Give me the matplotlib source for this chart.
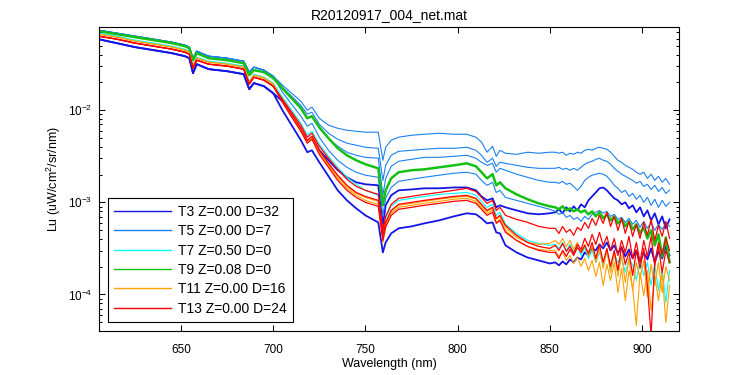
import numpy as np
import matplotlib
matplotlib.use("Agg")
import matplotlib.pyplot as plt

plt.rcParams["font.family"] = ["Liberation Sans", "DejaVu Sans"]
plt.rcParams["mathtext.fontset"] = "custom"
plt.rcParams["mathtext.rm"] = "Liberation Sans"
plt.rcParams["mathtext.it"] = "Liberation Sans:italic"
plt.rcParams["mathtext.bf"] = "Liberation Sans:bold"

# wavelength grid (nm): visible part, red edge / plateau, noisy NIR tail
wl_a = [605, 615, 625, 635, 645, 652, 654.5, 656.5, 658.5, 665, 675, 684, 687, 689.5, 695, 700]
wl_b = [705, 710, 715, 718.5, 721, 725, 730, 735, 740, 745, 750, 757, 759.5, 761, 764, 768,
        775, 782, 790, 798, 805, 810, 813, 816, 819, 821, 823, 826, 832, 838, 844, 850]
wl_c = list(np.arange(853, 916, 2))
wl = wl_a + wl_b + wl_c

# Lu values in units of 1e-3 uW/cm^2/sr/nm
t3_a = [59.1, 53.5, 48.4, 44.9, 41.6, 38.6, 36.7, 25.2, 31.6, 27.9, 26.5, 24.6, 16.9, 19.7, 18.2, 15.3]
t5_a = [74.1, 68.7, 63.7, 59.1, 54.8, 50.9, 48.4, 36.7, 43.8, 38.6, 36.7, 34.0, 25.9, 29.3, 27.2, 23.4]
t7_a = [68.7, 63.7, 57.7, 53.5, 49.6, 46.0, 43.8, 30.8, 37.6, 34.0, 32.4, 30.1, 20.7, 24.6, 22.8, 19.7]
t9_a = [72.2, 67.0, 62.1, 57.7, 53.5, 49.6, 47.2, 34.9, 41.6, 36.7, 34.9, 32.4, 24.0, 27.2, 25.9, 22.3]
t11_a = [67.0, 62.1, 56.2, 52.2, 48.4, 44.9, 42.7, 30.1, 36.7, 33.2, 31.6, 29.3, 20.2, 24.0, 22.3, 19.2]
t13_a = [63.7, 59.1, 53.5, 49.6, 46.0, 42.7, 40.6, 28.6, 34.9, 31.6, 30.1, 27.9, 19.2, 22.8, 21.2, 18.2]

# T3
t3_lo_b = [10.0, 6.87, 4.72, 3.50, 3.67, 2.72, 1.92, 1.35, 1.05, 0.861, 0.722, 0.606, 0.286, 0.367, 0.460, 0.522,
           0.548, 0.591, 0.637, 0.704, 0.760, 0.741, 0.670, 0.591, 0.606, 0.472, 0.460, 0.341, 0.286, 0.252, 0.234, 0.217]
t3_lo_c = [0.223, 0.207, 0.228, 0.212, 0.240, 0.223, 0.252, 0.240, 0.286, 0.265, 0.316, 0.301, 0.350, 0.316, 0.367, 0.301,
           0.341, 0.279, 0.324, 0.259, 0.308, 0.246, 0.301, 0.223, 0.286, 0.240, 0.316, 0.223, 0.293, 0.246, 0.332, 0.265]
t3_hi_b = [12.5, 8.83, 6.22, 4.60, 5.09, 3.67, 2.86, 2.23, 1.87, 1.65, 1.57, 1.53, 0.562, 0.928, 1.19, 1.35,
           1.38, 1.42, 1.42, 1.45, 1.45, 1.35, 1.16, 1.05, 1.105, 0.883, 0.928, 0.883, 0.818, 0.760, 0.741, 0.760]
t3_hi_c = [0.779, 0.840, 0.760, 0.883, 0.798, 0.905, 0.818, 0.951, 0.883, 1.05, 1.16, 1.28, 1.42, 1.45, 1.35, 1.22,
           1.105, 1.05, 0.951, 1.00, 0.861, 0.928, 0.779, 0.883, 0.704, 0.818, 0.637, 0.760, 0.577, 0.704, 0.522, 0.653]

# T5
t5_1_b = [18.7, 15.3, 12.5, 10.0, 10.8, 8.18, 6.87, 6.37, 6.06, 5.91, 5.77, 5.77, 2.86, 3.96, 4.72, 5.09,
          5.35, 5.48, 5.62, 5.48, 5.48, 5.09, 4.49, 3.50, 4.06, 3.16, 3.67, 3.41, 3.32, 3.50, 3.41, 3.50]
t5_1_c = [3.50, 3.41, 3.50, 3.24, 3.41, 3.32, 3.50, 3.41, 3.67, 3.77, 3.67, 3.86, 3.96, 3.86, 3.77, 3.50,
          3.16, 2.86, 2.72, 2.52, 2.40, 2.28, 2.12, 2.02, 2.12, 1.82, 2.02, 1.73, 1.92, 1.65, 1.82, 1.57]
t5_2_b = [17.7, 14.2, 11.3, 9.05, 9.51, 7.04, 5.62, 4.84, 4.38, 4.17, 3.96, 3.86, 1.73, 2.52, 3.24, 3.58,
          3.67, 3.77, 3.86, 3.86, 3.96, 3.67, 3.24, 2.72, 3.01, 2.46, 2.72, 2.65, 2.52, 2.40, 2.34, 2.34]
t5_2_c = [2.34, 2.40, 2.28, 2.34, 2.23, 2.34, 2.23, 2.40, 2.59, 2.72, 2.79, 2.93, 3.01, 2.86, 2.79, 2.59,
          2.34, 2.17, 2.02, 1.92, 1.82, 1.73, 1.61, 1.69, 1.49, 1.57, 1.38, 1.53, 1.31, 1.45, 1.25, 1.35]
t5_3_b = [17.3, 13.5, 10.5, 8.18, 8.61, 6.37, 4.96, 4.06, 3.50, 3.24, 3.08, 3.01, 1.19, 1.82, 2.46, 2.79,
          2.93, 3.08, 3.08, 3.16, 3.24, 3.01, 2.72, 2.52, 2.65, 2.12, 2.34, 2.23, 2.02, 1.87, 1.73, 1.65]
t5_3_c = [1.65, 1.61, 1.69, 1.57, 1.61, 1.49, 1.35, 1.49, 1.73, 1.87, 1.97, 2.02, 2.07, 2.02, 1.92, 1.73,
          1.53, 1.42, 1.28, 1.35, 1.16, 1.25, 1.08, 1.19, 1.00, 1.13, 0.928, 1.08, 0.883, 1.05, 0.905, 1.00]
t5_4_b = [15.7, 11.6, 8.61, 6.70, 7.22, 5.09, 3.67, 2.86, 2.40, 2.12, 1.97, 1.87, 0.722, 1.105, 1.45, 1.69,
          1.78, 1.87, 1.97, 2.07, 2.12, 2.02, 1.73, 1.53, 1.65, 1.28, 1.35, 1.13, 1.05, 0.975, 0.905, 0.840]
t5_4_c = [0.798, 0.741, 0.779, 0.687, 0.722, 0.653, 0.687, 0.621, 0.704, 0.653, 0.741, 0.779, 0.818, 0.760, 0.798, 0.704,
          0.741, 0.653, 0.687, 0.606, 0.670, 0.577, 0.637, 0.535, 0.621, 0.522, 0.606, 0.496, 0.577, 0.509, 0.591, 0.548]

# T7
t7_b = [13.85, 10.0, 7.22, 5.35, 5.91, 4.27, 3.16, 2.40, 1.87, 1.57, 1.35, 1.19, 0.472, 0.670, 0.905, 1.05,
        1.105, 1.16, 1.22, 1.25, 1.28, 1.19, 1.025, 0.883, 0.951, 0.722, 0.779, 0.577, 0.460, 0.386, 0.358, 0.341]
t7_c = [0.350, 0.316, 0.367, 0.301, 0.350, 0.286, 0.332, 0.265, 0.324, 0.246, 0.301, 0.223, 0.286, 0.202, 0.301, 0.182,
        0.272, 0.223, 0.259, 0.173, 0.246, 0.207, 0.142, 0.234, 0.161, 0.223, 0.125, 0.212, 0.110, 0.192, 0.082, 0.182]

# T9
t9_b = [17.3, 13.5, 10.5, 8.18, 8.61, 6.53, 4.96, 3.86, 3.24, 2.86, 2.59, 2.34, 0.928, 1.35, 1.82, 2.12,
        2.23, 2.28, 2.40, 2.52, 2.65, 2.46, 2.12, 1.82, 2.02, 1.53, 1.65, 1.42, 1.22, 1.08, 0.975, 0.905]
t9_c = [0.883, 0.840, 0.905, 0.818, 0.861, 0.798, 0.840, 0.779, 0.818, 0.741, 0.798, 0.704, 0.779, 0.670, 0.741, 0.637,
        0.704, 0.591, 0.653, 0.548, 0.621, 0.509, 0.577, 0.460, 0.535, 0.406, 0.496, 0.341, 0.449, 0.259, 0.416, 0.223]

# T11
t11_1_b = [12.5, 8.61, 6.06, 4.49, 4.96, 3.50, 2.52, 1.82, 1.42, 1.19, 1.05, 0.951, 0.367, 0.548, 0.760, 0.883,
           0.928, 0.975, 1.025, 1.08, 1.105, 1.025, 0.883, 0.760, 0.818, 0.606, 0.653, 0.496, 0.386, 0.332, 0.308, 0.301]
t11_1_c = [0.301, 0.259, 0.286, 0.234, 0.265, 0.217, 0.252, 0.202, 0.246, 0.182, 0.234, 0.157, 0.223, 0.125, 0.212, 0.142,
           0.223, 0.105, 0.192, 0.0857, 0.182, 0.116, 0.0460, 0.173, 0.0970, 0.182, 0.0668, 0.161, 0.0857, 0.173, 0.0496, 0.125]
t11_2_b = [12.8, 8.83, 6.22, 4.60, 5.09, 3.58, 2.59, 1.92, 1.49, 1.25, 1.13, 1.025, 0.406, 0.577, 0.798, 0.928,
           0.975, 1.025, 1.08, 1.13, 1.16, 1.08, 0.928, 0.798, 0.861, 0.653, 0.704, 0.535, 0.416, 0.367, 0.350, 0.358]
t11_2_c = [0.386, 0.350, 0.406, 0.332, 0.386, 0.308, 0.367, 0.286, 0.350, 0.259, 0.332, 0.223, 0.316, 0.192, 0.301, 0.173,
           0.286, 0.157, 0.265, 0.135, 0.246, 0.110, 0.223, 0.149, 0.234, 0.0947, 0.212, 0.125, 0.223, 0.105, 0.202, 0.142]

# T13
t13_1_b = [13.2, 9.51, 6.87, 5.09, 5.62, 4.06, 3.01, 2.28, 1.78, 1.49, 1.35, 1.22, 0.496, 0.704, 0.951, 1.105,
           1.16, 1.22, 1.28, 1.35, 1.42, 1.31, 1.13, 0.975, 1.05, 0.818, 0.883, 0.722, 0.653, 0.606, 0.548, 0.522]
t13_1_c = [0.522, 0.460, 0.548, 0.472, 0.509, 0.438, 0.535, 0.496, 0.606, 0.522, 0.670, 0.562, 0.722, 0.591, 0.779, 0.548,
           0.704, 0.496, 0.670, 0.460, 0.621, 0.427, 0.577, 0.406, 0.606, 0.438, 0.653, 0.386, 0.562, 0.427, 0.621, 0.406]
t13_2_b = [12.8, 9.05, 6.37, 4.72, 5.22, 3.67, 2.65, 1.97, 1.53, 1.28, 1.16, 1.05, 0.438, 0.606, 0.818, 0.951,
           1.00, 1.05, 1.105, 1.16, 1.19, 1.105, 0.951, 0.818, 0.883, 0.670, 0.722, 0.562, 0.438, 0.367, 0.332, 0.316]
t13_2_c = [0.341, 0.301, 0.358, 0.293, 0.332, 0.279, 0.350, 0.308, 0.406, 0.332, 0.449, 0.350, 0.472, 0.341, 0.427, 0.301,
           0.406, 0.265, 0.386, 0.286, 0.427, 0.246, 0.367, 0.223, 0.386, 0.259, 0.427, 0.207, 0.367, 0.272, 0.406, 0.301]
t13_3_b = [12.2, 8.40, 5.91, 4.38, 4.84, 3.32, 2.40, 1.73, 1.35, 1.13, 1.00, 0.905, 0.386, 0.535, 0.722, 0.840,
           0.883, 0.928, 0.975, 1.025, 1.05, 0.975, 0.840, 0.722, 0.779, 0.591, 0.637, 0.472, 0.386, 0.332, 0.301, 0.286]
t13_3_c = [0.286, 0.246, 0.301, 0.259, 0.308, 0.265, 0.324, 0.286, 0.341, 0.279, 0.367, 0.246, 0.350, 0.223, 0.316, 0.202,
           0.301, 0.182, 0.332, 0.212, 0.286, 0.161, 0.301, 0.192, 0.316, 0.125, 0.0359, 0.234, 0.332, 0.173, 0.301, 0.223]

labels = ["T3 Z=0.00 D=32", "T5 Z=0.00 D=7", "T7 Z=0.50 D=0",
          "T9 Z=0.08 D=0", "T11 Z=0.00 D=16", "T13 Z=0.00 D=24"]
colors = ["#1414e6", "#1a80f0", "#00ffff", "#14c014", "#ffa000", "#ff0000"]
widths = [1.3, 0.8, 0.8, 1.8, 0.8, 0.9]

groups = [
    [t3_a + t3_lo_b + t3_lo_c, t3_a + t3_hi_b + t3_hi_c],
    [t5_a + t5_1_b + t5_1_c, t5_a + t5_2_b + t5_2_c, t5_a + t5_3_b + t5_3_c, t5_a + t5_4_b + t5_4_c],
    [t7_a + t7_b + t7_c],
    [t9_a + t9_b + t9_c],
    [t11_a + t11_1_b + t11_1_c, t11_a + t11_2_b + t11_2_c],
    [t13_a + t13_1_b + t13_1_c, t13_a + t13_2_b + t13_2_c, t13_a + t13_3_b + t13_3_c],
]

fig, ax = plt.subplots(figsize=(7.5, 3.75), dpi=100)
fig.subplots_adjust(left=0.132, right=0.905, bottom=0.117, top=0.928)

for lab, col, lw, lines in zip(labels, colors, widths, groups):
    for i, vals in enumerate(lines):
        ax.semilogy(wl, np.array(vals) * 1e-3, color=col, lw=lw,
                    label=lab if i == 0 else None)

ax.set_xlim(605.5, 920)
ax.set_ylim(4.0e-5, 0.08)
ax.set_xticks([650, 700, 750, 800, 850, 900])
ax.tick_params(which="both", direction="in", top=True, right=True, labelsize=8.5, width=0.75)
ax.tick_params(axis="x", which="major", length=4, pad=9)
ax.tick_params(axis="y", which="major", length=4, pad=5)
ax.tick_params(which="minor", length=2.5)
for sp in ax.spines.values():
    sp.set_linewidth(0.8)

ax.set_xlabel("Wavelength (nm)", fontsize=9, labelpad=2)
ax.set_ylabel("Lu (uW/cm$^2$/sr/nm)", fontsize=9, labelpad=3)
ax.set_title("R20120917_004_net.mat", fontsize=10, pad=6)

leg = ax.legend(loc="lower left", bbox_to_anchor=(0.0155, 0.03), borderaxespad=0,
                fontsize=10, handlelength=4.1, handletextpad=0.5, labelspacing=0.39,
                fancybox=False, framealpha=1, edgecolor="black", borderpad=0.45)
leg.get_frame().set_linewidth(0.8)
for h in leg.get_lines():
    h.set_linewidth(1.0)

fig.savefig("out.png", dpi=100)
